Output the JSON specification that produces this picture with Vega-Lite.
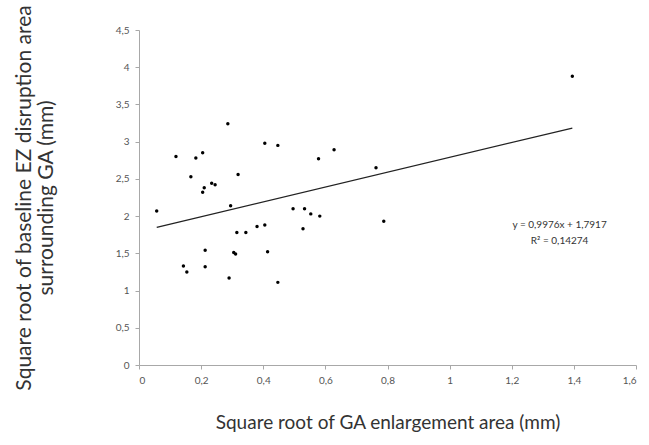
{
  "$schema": "https://vega.github.io/schema/vega-lite/v6.json",
  "width": 497,
  "height": 335,
  "autosize": {"type": "none"},
  "padding": {"left": 139, "top": 30, "right": 13, "bottom": 80},
  "background": "white",
  "config": {
    "view": {"stroke": null},
    "font": "Lato",
    "axis": {
      "grid": false,
      "domainColor": "#a8a8a8",
      "tickColor": "#a8a8a8",
      "tickSize": 4,
      "labelColor": "#555555",
      "labelFontSize": 10,
      "labelFont": "Lato",
      "labelOverlap": false,
      "titleFont": "Lato",
      "titleFontWeight": "normal",
      "titleColor": "#333333"
    }
  },
  "datasets": {
    "pts": [
      {"x": 0.057, "y": 2.07},
      {"x": 0.119, "y": 2.80},
      {"x": 0.167, "y": 2.53},
      {"x": 0.183, "y": 2.78},
      {"x": 0.205, "y": 2.85},
      {"x": 0.205, "y": 2.32},
      {"x": 0.210, "y": 2.38},
      {"x": 0.234, "y": 2.44},
      {"x": 0.245, "y": 2.42},
      {"x": 0.286, "y": 3.24},
      {"x": 0.295, "y": 2.14},
      {"x": 0.319, "y": 2.56},
      {"x": 0.405, "y": 2.98},
      {"x": 0.447, "y": 2.95},
      {"x": 0.496, "y": 2.10},
      {"x": 0.533, "y": 2.10},
      {"x": 0.553, "y": 2.03},
      {"x": 0.578, "y": 2.77},
      {"x": 0.582, "y": 2.00},
      {"x": 0.628, "y": 2.89},
      {"x": 0.763, "y": 2.65},
      {"x": 0.788, "y": 1.93},
      {"x": 0.315, "y": 1.78},
      {"x": 0.344, "y": 1.78},
      {"x": 0.380, "y": 1.86},
      {"x": 0.405, "y": 1.88},
      {"x": 0.528, "y": 1.83},
      {"x": 0.213, "y": 1.54},
      {"x": 0.143, "y": 1.33},
      {"x": 0.154, "y": 1.25},
      {"x": 0.213, "y": 1.32},
      {"x": 0.305, "y": 1.51},
      {"x": 0.311, "y": 1.49},
      {"x": 0.414, "y": 1.52},
      {"x": 0.290, "y": 1.17},
      {"x": 0.447, "y": 1.11},
      {"x": 1.395, "y": 3.88}
    ],
    "trend": [
      {"x": 0.057, "y": 1.8486},
      {"x": 1.395, "y": 3.1834}
    ],
    "eq": [
      {"x": 1.354, "y": 1.875, "t": "y = 0,9976x + 1,7917"},
      {"x": 1.354, "y": 1.665, "t": "R² = 0,14274"}
    ]
  },
  "encoding": {
    "x": {
      "field": "x", "type": "quantitative",
      "scale": {"domain": [0, 1.6], "nice": false},
      "axis": {
        "values": [0, 0.2, 0.4, 0.6, 0.8, 1, 1.2, 1.4, 1.6],
        "format": ".1~f",
        "labelExpr": "replace(datum.label, '.', ',')",
        "labelPadding": 6,
        "title": "Square root of GA enlargement area (mm)",
        "titleFontSize": 19,
        "titlePadding": 28
      }
    },
    "y": {
      "field": "y", "type": "quantitative",
      "scale": {"domain": [0, 4.5], "nice": false},
      "axis": {
        "values": [0, 0.5, 1, 1.5, 2, 2.5, 3, 3.5, 4, 4.5],
        "format": ".1~f",
        "labelExpr": "replace(datum.label, '.', ',')",
        "labelPadding": 6,
        "title": ["Square root of baseline EZ disruption area", "surrounding GA (mm)"],
        "titleFontSize": 21,
        "titleLineHeight": 22,
        "titlePadding": 59
      }
    }
  },
  "layer": [
    {
      "data": {"name": "trend"},
      "mark": {"type": "line", "color": "#222222", "strokeWidth": 1.3}
    },
    {
      "data": {"name": "pts"},
      "mark": {"type": "circle", "color": "#000000", "size": 12, "opacity": 1}
    },
    {
      "data": {"name": "eq"},
      "mark": {"type": "text", "fontSize": 10, "color": "#333333", "align": "center", "baseline": "middle"},
      "encoding": {
        "text": {"field": "t"}
      }
    }
  ]
}
